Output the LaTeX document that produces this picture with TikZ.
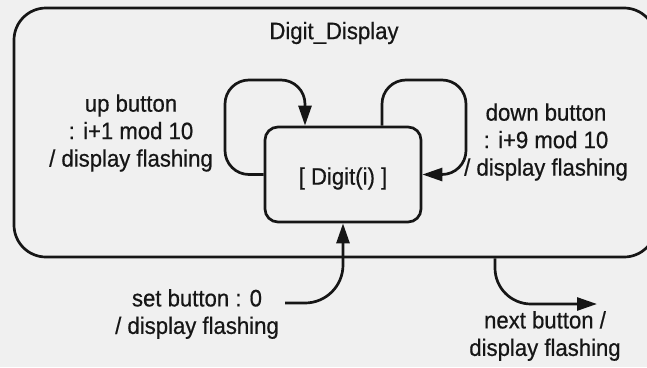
\documentclass[tikz,border=0pt]{standalone}
\usepackage{fontspec}
\setmainfont{Liberation Sans}[FakeStretch=0.93, FakeBold=0.6]
\usetikzlibrary{arrows.meta,calc}
\definecolor{paper}{RGB}{240,240,240}
\definecolor{ink}{RGB}{22,22,22}
\tikzset{
  statebox/.style={draw=ink, line width=2.7pt, rounded corners=#1, inner sep=0pt},
  flow/.style={draw=ink, line width=2.7pt, -{Triangle[length=20pt,width=13pt]}},
  lbl/.style={text=ink, font=\fontsize{23.8}{27.5}\selectfont, align=center, inner sep=0pt},
}
\begin{document}
\begin{tikzpicture}[x=1pt,y=-1pt]
  % page
  \fill[paper] (0,0) rectangle (647,367);
  \useasboundingbox (0,0) rectangle (647,367);
  \begin{scope}
    \clip (0,0) rectangle (647,367);
    % composite state
    \node[statebox=32pt, minimum width=642pt, minimum height=249pt] (outer) at (335,132.5) {};
  \end{scope}
  \node[lbl] (title) at (334,33) {Digit\_Display};

  % inner state
  \node[statebox=13pt, minimum width=156pt, minimum height=95pt] (inner) at (343,174.5) {};
  \node[lbl] (digit) at ([yshift=-4pt]inner.center) {[ Digit(i) ]};

  % self transitions
  \draw[flow, rounded corners=24pt] (inner.west) -| (225,80) -| ([xshift=-38pt]inner.north);
  \draw[flow, rounded corners=24pt] ([xshift=39pt]inner.north) |- (466,80) |- (inner.east);

  \node[lbl] (uplbl) at (131,133) {up button\\: i+1 mod 10\\/ display flashing};
  \node[lbl] (downlbl) at (546,142) {down button\\: i+9 mod 10\\/ display flashing};

  % entry transition
  \coordinate (setS) at (285,303);
  \draw[flow, rounded corners=38pt] (setS) -| (inner.south);
  \node[lbl] (setlbl) at (197,314) {set button : 0\\/ display flashing};

  % exit transition
  \coordinate (nextE) at (597,304);
  \draw[flow, rounded corners=36pt] ([xshift=160pt]outer.south) |- (nextE);
  \node[lbl] (nextlbl) at (545,336) {next button /\\display flashing};
\end{tikzpicture}
\end{document}
